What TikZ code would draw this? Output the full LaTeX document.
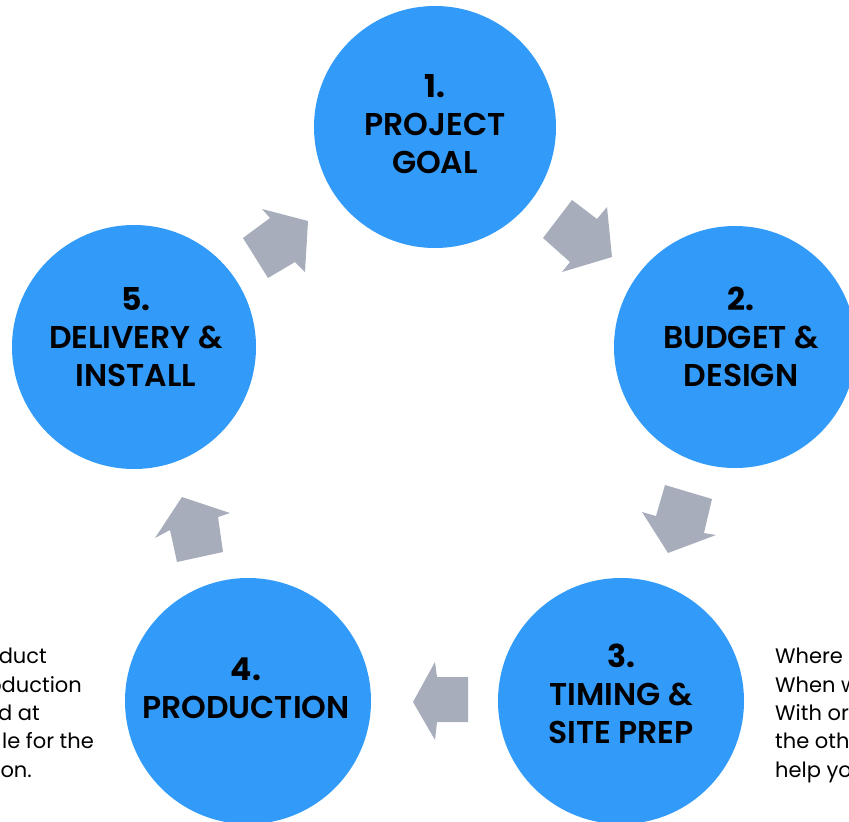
\documentclass[tikz,border=0pt]{standalone}
\usepackage{fontspec}
\setmainfont{Poppins}
\newfontfamily\labelfont{Poppins}[UprightFont=* SemiBold]
\newfontfamily\numfont{Poppins}[UprightFont=* Bold]
\definecolor{cblue}{RGB}{50,155,250}
\definecolor{agray}{RGB}{168,173,188}
\begin{document}
\begin{tikzpicture}[x=1pt,y=-1pt,
  stepcircle/.style={circle,fill=cblue,minimum size=#1,inner sep=0pt},
  steplabel/.style={align=center,inner sep=0pt,font=\labelfont\fontsize{31.5}{38}\selectfont,text=black},
  sidetext/.style={inner sep=0pt,font=\fontsize{21}{28}\selectfont,text=black},
  blockarrow/.style={fill=agray,draw=none}]
\useasboundingbox (0,0) rectangle (849,822);
\clip (0,0) rectangle (849,822);
% circles
\node[stepcircle=242pt] (c1) at (435,127) {};
\node[stepcircle=242pt] (c2) at (735,347) {};
\node[stepcircle=244pt] (c5) at (134,347) {};
\node[stepcircle=246pt] (c4) at (248,701) {};
\node[stepcircle=246pt] (c3) at (621,701) {};
% labels
\node[steplabel] (t1) at (435,124) {{\numfont 1.}\\PROJECT\\GOAL};
\node[steplabel] (t2) at (741,337) {{\numfont 2.}\\BUDGET \&\\DESIGN};
\node[steplabel] (t5) at (136,337) {{\numfont 5.}\\DELIVERY \&\\INSTALL};
\node[steplabel] (t4) at (246,688) {{\numfont 4.}\\PRODUCTION};
\node[steplabel] (t3) at (621,694) {{\numfont 3.}\\TIMING \&\\SITE PREP};
% block arrows
\fill[blockarrow] (572,200) -- (597,219) -- (607,207) -- (612,257) -- (562,272) -- (570,262) -- (543,238) -- cycle;
\fill[blockarrow] (665,485) -- (712,499) -- (704,533) -- (716,535) -- (668,553) -- (642,512) -- (656,516) -- cycle;
\fill[blockarrow] (413,702) -- (435,662) -- (437,677) -- (468,677) -- (468,722) -- (437,722) -- (435,740) -- cycle;
\fill[blockarrow] (182,497) -- (230,513) -- (218,517) -- (223,552) -- (177,562) -- (170,530) -- (155,538) -- cycle;
\fill[blockarrow] (308,221) -- (262,209) -- (270,218) -- (243,238) -- (268,278) -- (295,262) -- (305,272) -- cycle;
% side texts (left, clipped)
\node[sidetext,anchor=base east] (l1) at (47,663) {duct};
\node[sidetext,anchor=base east] (l2) at (82,692) {oduction};
\node[sidetext,anchor=base east] (l3) at (40,720) {d at};
\node[sidetext,anchor=base east] (l4) at (94,748) {le for the};
\node[sidetext,anchor=base east] (l5) at (32,777) {on.};
% side texts (right, clipped)
\node[sidetext,anchor=base west] (r1) at (775,663) {Where};
\node[sidetext,anchor=base west] (r2) at (775,692) {When w};
\node[sidetext,anchor=base west] (r3) at (775,720) {With or};
\node[sidetext,anchor=base west] (r4) at (775,748) {the oth};
\node[sidetext,anchor=base west] (r5) at (775,777) {help yo};
\end{tikzpicture}
\end{document}
